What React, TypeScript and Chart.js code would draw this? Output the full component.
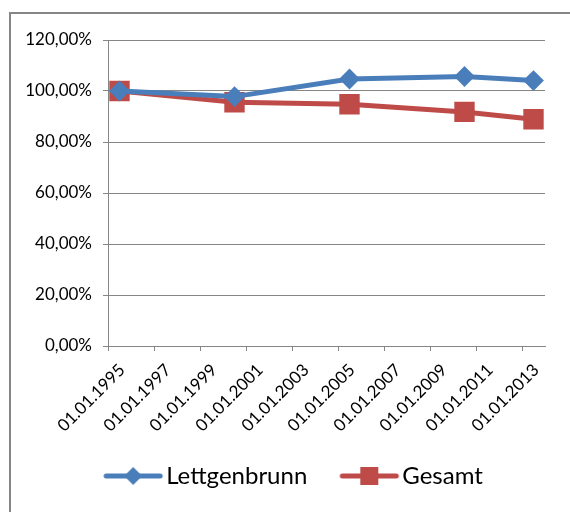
import { useEffect, useRef } from "react";
import { Chart, registerables } from "chart.js";

Chart.register(...registerables);

// Survey dates (fractional years) and population index relative to 1995 (= 100 %)
const surveyYears = [1995.5, 2000.5, 2005.5, 2010.5, 2013.5];
const lettgenbrunn = [100.0, 97.8, 104.7, 105.7, 104.1];
const gesamt = [100.0, 95.6, 94.8, 91.8, 88.9];

// Axis ticks
const tickYears = [1995, 1997, 1999, 2001, 2003, 2005, 2007, 2009, 2011, 2013];
const percentTicks = [0, 20, 40, 60, 80, 100, 120];

const seriesNames = ["Lettgenbrunn", "Gesamt"];

const BLUE = "#4A7EBB";
const RED = "#BE4B48";
const GRID = "#868686";
const FONT = "Lato, 'Open Sans', sans-serif";

// Legend swatch: a thick line with the series marker in its middle.
// The canvas is centred on the legend box; the drawing sits right of centre.
function legendSwatch(color: string, marker: "rectRot" | "rect"): HTMLCanvasElement {
  const c = document.createElement("canvas");
  c.width = 110;
  c.height = 22;
  const ctx = c.getContext("2d")!;
  const x0 = 42;
  const x1 = 96;
  const mid = (x0 + x1) / 2;
  ctx.strokeStyle = color;
  ctx.lineWidth = 5;
  ctx.lineCap = "round";
  ctx.beginPath();
  ctx.moveTo(x0, 11);
  ctx.lineTo(x1, 11);
  ctx.stroke();
  ctx.fillStyle = color;
  ctx.beginPath();
  if (marker === "rectRot") {
    ctx.moveTo(mid, 2);
    ctx.lineTo(mid + 9, 11);
    ctx.lineTo(mid, 20);
    ctx.lineTo(mid - 9, 11);
    ctx.closePath();
  } else {
    ctx.rect(mid - 9, 2, 18, 18);
  }
  ctx.fill();
  return c;
}

function formatPercent(v: number): string {
  return v.toFixed(2).replace(".", ",") + "%";
}

export default function App() {
  const canvasRef = useRef<HTMLCanvasElement | null>(null);

  useEffect(() => {
    const canvas = canvasRef.current;
    if (!canvas) return;

    const swatches = [legendSwatch(BLUE, "rectRot"), legendSwatch(RED, "rect")];

    const chart = new Chart(canvas, {
      type: "line",
      data: {
        datasets: [
          {
            label: seriesNames[0],
            data: surveyYears.map((x, i) => ({ x, y: lettgenbrunn[i] })),
            borderColor: BLUE,
            backgroundColor: BLUE,
            borderWidth: 5,
            pointStyle: "rectRot",
            pointRadius: 9,
            pointBorderWidth: 2,
            pointBorderColor: BLUE,
            pointBackgroundColor: BLUE,
            tension: 0,
          },
          {
            label: seriesNames[1],
            data: surveyYears.map((x, i) => ({ x, y: gesamt[i] })),
            borderColor: RED,
            backgroundColor: RED,
            borderWidth: 5,
            pointStyle: "rect",
            pointRadius: 13,
            pointBorderWidth: 2,
            pointBorderColor: RED,
            pointBackgroundColor: RED,
            tension: 0,
          },
        ],
      },
      options: {
        animation: false,
        responsive: false,
        events: [],
        layout: { padding: { left: 22, right: 25, top: 40, bottom: 14 } },
        plugins: {
          tooltip: { enabled: false },
          legend: {
            position: "bottom",
            labels: {
              usePointStyle: true,
              pointStyleWidth: 70,
              padding: 13,
              color: "#000",
              font: { family: FONT, size: 24 },
              generateLabels: () =>
                seriesNames.map((text, i) => ({
                  text,
                  pointStyle: swatches[i],
                  fillStyle: "transparent",
                  strokeStyle: "transparent",
                  lineWidth: 0,
                  hidden: false,
                  datasetIndex: i,
                })),
            },
          },
        },
        scales: {
          x: {
            type: "linear",
            min: 1995,
            max: 2014,
            afterBuildTicks: (scale: any) => {
              scale.ticks = tickYears.map((value) => ({ value }));
            },
            afterFit: (scale: any) => {
              scale.height = 105;
            },
            grid: {
              drawOnChartArea: false,
              drawTicks: true,
              tickLength: 5,
              color: GRID,
              lineWidth: 1,
            },
            border: { color: GRID, width: 1 },
            ticks: {
              autoSkip: false,
              minRotation: 45,
              maxRotation: 45,
              padding: 9,
              labelOffset: 14,
              color: "#000",
              font: { family: FONT, size: 17 },
              callback: (v: any) => "01.01." + v,
            },
          },
          y: {
            min: 0,
            max: 120,
            afterBuildTicks: (scale: any) => {
              scale.ticks = percentTicks.map((value) => ({ value }));
            },
            afterFit: (scale: any) => {
              scale.width = 86;
            },
            grid: {
              color: GRID,
              lineWidth: 1,
              tickLength: 5,
            },
            border: { color: GRID, width: 1 },
            ticks: {
              padding: 11,
              color: "#000",
              font: { family: FONT, size: 17 },
              callback: (v: any) => formatPercent(Number(v)),
            },
          },
        },
      },
    });

    return () => chart.destroy();
  }, []);

  return (
    <div
      style={{
        position: "fixed",
        left: 0,
        top: 0,
        width: 570,
        height: 512,
        overflow: "hidden",
        background: "#fff",
      }}
    >
      <div
        style={{
          position: "absolute",
          left: 9,
          top: 12,
          width: 620,
          height: 620,
          border: "2px solid " + GRID,
          boxSizing: "border-box",
        }}
      />
      <canvas
        ref={canvasRef}
        width={570}
        height={512}
        style={{ position: "absolute", left: 0, top: 0, width: 570, height: 512 }}
      />
    </div>
  );
}
